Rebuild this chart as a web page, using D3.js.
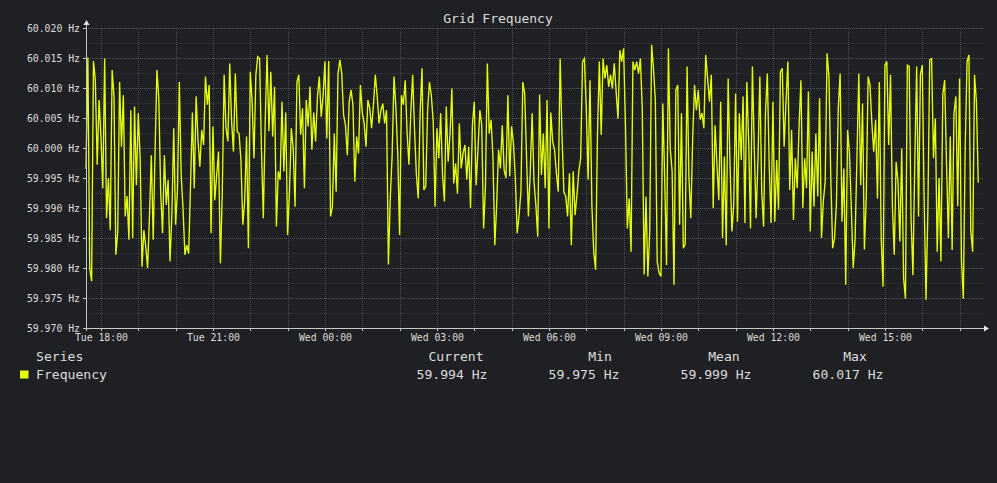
<!DOCTYPE html>
<html>
<head>
<meta charset="utf-8">
<script src="https://cdn.jsdelivr.net/npm/d3@7"></script>
<style>
  html, body { margin: 0; padding: 0; background: #1f2023; }
  svg { display: block; font-family: "DejaVu Sans Mono", monospace; }
</style>
</head>
<body>
<svg id="chart" width="997" height="483"></svg>
<script>
// ---- data ----
const chartTitle = "Grid Frequency";
const seriesName = "Frequency";
const unit = "Hz";
const startTime = Date.UTC(2024, 0, 16, 17, 36);   // Tue 17:36
const stepMinutes = 3;

// one reading every 3 minutes, Tue 17:36 -> Wed 17:30
const frequencyHz = [
  59.9965, 60.0151, 59.9800, 59.9778, 60.0145, 60.0113, 59.9972, 60.0080, 60.0019, 59.9933,
  60.0149, 59.9883, 59.9950, 59.9863, 60.0130, 60.0086, 59.9822, 59.9860, 60.0110, 60.0002,
  60.0088, 59.9886, 59.9920, 59.9847, 60.0063, 59.9850, 60.0069, 59.9938, 60.0058, 59.9983,
  59.9802, 59.9863, 59.9836, 59.9800, 59.9886, 59.9988, 59.9847, 59.9994, 60.0130, 60.0083,
  59.9927, 59.9858, 59.9988, 59.9905, 59.9947, 59.9811, 59.9888, 60.0033, 59.9872, 59.9930,
  60.0110, 59.9955, 59.9897, 59.9822, 59.9838, 59.9824, 59.9938, 60.0059, 59.9933, 60.0086,
  60.0013, 59.9969, 60.0030, 60.0005, 60.0119, 60.0072, 60.0105, 59.9858, 60.0036, 59.9913,
  59.9955, 59.9994, 59.9808, 59.9924, 60.0122, 60.0033, 60.0011, 60.0141, 60.0044, 59.9994,
  60.0124, 60.0027,
  60.0024, 59.9980, 59.9872, 59.9911, 60.0019, 59.9833, 60.0127, 60.0077, 59.9983, 60.0122,
  60.0152, 60.0149, 59.9997, 59.9883, 60.0044, 60.0155, 60.0028, 60.0127, 60.0019, 60.0102,
  59.9869, 59.9961, 59.9947, 60.0077, 59.9961, 60.0059, 59.9855, 59.9927, 60.0033, 59.9999,
  59.9902, 60.0110, 60.0122, 60.0022, 60.0066, 59.9933, 60.0080, 60.0036, 60.0102, 59.9997,
  60.0059, 60.0011, 60.0086, 60.0119, 60.0052, 60.0086, 60.0144, 60.0016, 60.0145, 59.9886,
  59.9902, 60.0024, 59.9927, 60.0124, 60.0147, 60.0124, 60.0055, 60.0038, 59.9988, 60.0077,
  60.0097, 60.0072, 59.9944, 60.0019, 59.9991, 60.0105, 60.0059, 60.0041, 60.0002, 60.0080,
  60.0066, 60.0033, 60.0072, 60.0122, 60.0086, 60.0041, 60.0063, 60.0074, 60.0041, 60.0063,
  59.9806, 59.9916, 59.9988, 60.0119, 60.0069, 59.9991, 59.9855, 60.0088, 60.0072, 60.0113,
  60.0027, 59.9972, 60.0059, 60.0122, 60.0030, 59.9955, 59.9916, 60.0059, 60.0133, 59.9930,
  59.9936, 60.0063, 60.0110, 60.0088, 60.0044, 59.9902, 60.0033, 59.9983, 60.0058, 59.9955,
  59.9911, 60.0069, 59.9977, 60.0022, 60.0099, 59.9941, 59.9974, 59.9924, 60.0041, 59.9966,
  59.9991, 60.0005, 59.9947, 60.0002, 59.9900, 60.0038, 60.0077, 59.9938, 59.9999, 60.0063,
  60.0038, 59.9866, 59.9936, 60.0141, 60.0024, 60.0047, 59.9986, 59.9838, 59.9905, 59.9997,
  59.9966, 60.0038, 59.9963, 59.9950, 60.0088, 59.9953, 60.0036, 60.0008, 59.9950, 59.9858,
  59.9888, 59.9927, 60.0110, 60.0091, 59.9986, 59.9886, 59.9961, 60.0058, 59.9944, 59.9905,
  59.9852,
  60.0089, 59.9955, 60.0024, 59.9933, 60.0080, 59.9866, 60.0059, 60.0011, 59.9997, 59.9958,
  59.9927, 60.0149, 60.0022, 59.9927, 59.9919, 59.9886, 59.9958, 59.9838, 59.9961, 59.9888,
  59.9921, 59.9961, 59.9983, 60.0144, 60.0149, 60.0066, 59.9947, 60.0113, 59.9905, 59.9827,
  59.9797, 60.0022, 60.0144, 60.0022, 60.0149, 60.0116, 60.0138, 60.0102, 60.0122, 60.0099,
  60.0141, 60.0094, 60.0049, 60.0163, 60.0144, 60.0166, 60.0038, 59.9866, 59.9916, 59.9827,
  60.0144, 60.0130, 60.0144, 60.0124, 60.0149, 60.0066, 59.9789, 59.9919, 59.9786, 59.9861,
  60.0172, 60.0133, 60.0080, 59.9811, 59.9792, 59.9786, 60.0074, 59.9950, 59.9805, 60.0166,
  59.9999, 59.9961, 59.9772, 60.0097, 60.0105, 59.9872, 60.0058, 59.9833, 59.9840, 60.0136,
  59.9950, 59.9883, 60.0016, 60.0105, 60.0063, 60.0097, 60.0047, 60.0058, 60.0033, 60.0155,
  60.0116, 60.0077, 60.0122, 59.9900, 60.0038, 59.9972, 59.9913, 60.0077, 59.9850, 59.9986,
  59.9838, 60.0116, 59.9974, 59.9861, 59.9905, 60.0091, 59.9877, 60.0058, 59.9980, 60.0086,
  59.9875, 60.0110, 60.0011, 59.9866, 60.0136, 59.9999, 59.9883, 59.9983, 60.0119, 59.9927,
  59.9869, 60.0058, 60.0124, 59.9972, 59.9875, 60.0077, 59.9877, 59.9980, 59.9897, 60.0127,
  60.0133, 60.0002, 60.0077, 60.0144, 59.9930, 60.0030, 59.9880, 59.9983, 59.9933, 60.0036,
  60.0113, 59.9900, 59.9983, 59.9933, 60.0094, 59.9861, 59.9994, 59.9902, 60.0024, 59.9919,
  60.0083, 59.9850, 59.9911, 59.9944, 60.0158, 60.0119, 59.9950, 59.9833, 59.9850, 59.9905,
  60.0066,
  60.0124, 59.9877, 59.9966, 59.9772, 60.0030, 59.9991, 59.9900, 59.9800, 59.9847, 59.9983,
  60.0124, 59.9938, 60.0074, 59.9831, 59.9919, 60.0119, 60.0105, 60.0041, 59.9994, 60.0047,
  59.9916, 60.0110, 59.9850, 59.9769, 60.0138, 60.0144, 60.0005, 60.0122, 59.9903, 59.9822,
  59.9977, 59.9944, 59.9844, 59.9999, 59.9783, 59.9749, 60.0138, 60.0136, 59.9883, 59.9788,
  59.9977, 60.0136, 59.9886, 60.0122, 60.0138, 59.9916, 59.9747, 59.9894, 60.0147, 60.0149,
  59.9983, 60.0049, 59.9827, 59.9950, 59.9811, 60.0089, 60.0113, 59.9972, 59.9850, 60.0019,
  59.9830, 60.0058, 60.0086, 59.9903, 60.0116, 59.9813, 59.9749, 59.9999, 60.0144, 60.0155,
  59.9861, 59.9827, 60.0122, 60.0077, 59.9942
];

const yMajorTicks = [59.970, 59.975, 59.980, 59.985, 59.990, 59.995, 60.000, 60.005, 60.010, 60.015, 60.020];
const yMinorTicks = [59.9725, 59.9775, 59.9825, 59.9875, 59.9925, 59.9975, 60.0025, 60.0075, 60.0125, 60.0175];

const legendHeaders = ["Current", "Min", "Mean", "Max"];
const legendValues = ["59.994 Hz", "59.975 Hz", "59.999 Hz", "60.017 Hz"];

// ---- styling / layout ----
const lineColor = "#e6ff0a";
const textColor = "#dcdcdc";
const axisColor = "#c8c8c8";

const svg = d3.select("#chart");
const points = frequencyHz.map((v, i) => ({ t: new Date(startTime + i * stepMinutes * 60000), v }));

const x = d3.scaleUtc()
  .domain([new Date(startTime), new Date(startTime + 24 * 3600000)])
  .range([86, 982]);
const y = d3.scaleLinear().domain([59.970, 60.020]).range([328, 28]);

// grid (dotted, like rrdtool)
const grid = svg.append("g").attr("shape-rendering", "crispEdges");
grid.selectAll("line.hmin").data(yMinorTicks).join("line")
  .attr("x1", 86).attr("x2", 983)
  .attr("y1", d => Math.round(y(d)) + 0.5).attr("y2", d => Math.round(y(d)) + 0.5)
  .attr("stroke", "#37383c").attr("stroke-dasharray", "1,1");
grid.selectAll("line.vgrid").data(x.ticks(d3.utcHour.every(1))).join("line")
  .attr("x1", d => Math.round(x(d)) + 0.5).attr("x2", d => Math.round(x(d)) + 0.5)
  .attr("y1", 28).attr("y2", 328)
  .attr("stroke", "#4a4b4f").attr("stroke-dasharray", "1,1");
grid.selectAll("line.hmaj").data(yMajorTicks.slice(1)).join("line")
  .attr("x1", 86).attr("x2", 983)
  .attr("y1", d => Math.round(y(d)) + 0.5).attr("y2", d => Math.round(y(d)) + 0.5)
  .attr("stroke", "#5a5b5f").attr("stroke-dasharray", "1,1");

// series line
svg.append("path")
  .datum(points)
  .attr("fill", "none")
  .attr("stroke", lineColor)
  .attr("stroke-width", 1.35)
  .attr("stroke-linejoin", "miter")
  .attr("d", d3.line().x(d => x(d.t)).y(d => y(d.v)));

// axes
const axes = svg.append("g").attr("shape-rendering", "crispEdges");
axes.append("line").attr("x1", 83).attr("x2", 985).attr("y1", 328.5).attr("y2", 328.5).attr("stroke", axisColor);
axes.append("line").attr("x1", 86.5).attr("x2", 86.5).attr("y1", 331).attr("y2", 24).attr("stroke", axisColor);
svg.append("path").attr("d", "M984,325.5L989,328.5L984,331.5Z").attr("fill", "#e8e8e8");
svg.append("path").attr("d", "M83.5,25L86.5,20L89.5,25Z").attr("fill", "#e8e8e8");

axes.selectAll("line.xt").data(x.ticks(d3.utcHour.every(1))).join("line")
  .attr("x1", d => Math.round(x(d)) + 0.5).attr("x2", d => Math.round(x(d)) + 0.5)
  .attr("y1", 328).attr("y2", 331).attr("stroke", axisColor);
axes.selectAll("line.yt").data(yMajorTicks).join("line")
  .attr("x1", 83).attr("x2", 86)
  .attr("y1", d => Math.round(y(d)) + 0.5).attr("y2", d => Math.round(y(d)) + 0.5)
  .attr("stroke", axisColor);

// y labels
svg.append("g").selectAll("text").data(yMajorTicks).join("text")
  .attr("x", 80).attr("y", d => y(d) + 3.5)
  .attr("text-anchor", "end").attr("fill", textColor).attr("font-size", 9.8)
  .text(d => d3.format(".3f")(d) + " " + unit);

// x labels
const fmtX = d3.utcFormat("%a %H:%M");
svg.append("g").selectAll("text").data(x.ticks(d3.utcHour.every(3))).join("text")
  .attr("x", d => x(d) + 0.5).attr("y", 341)
  .attr("text-anchor", "middle").attr("fill", textColor).attr("font-size", 9.8)
  .text(d => fmtX(d));

// title
svg.append("text").attr("x", 498).attr("y", 23).attr("text-anchor", "middle")
  .attr("fill", textColor).attr("font-size", 13).text(chartTitle);

// legend
const legend = svg.append("g").attr("fill", textColor).attr("font-size", 13.1);
legend.append("text").attr("x", 36).attr("y", 361).text("Series");
legend.append("rect").attr("x", 20).attr("y", 370.5).attr("width", 8.5).attr("height", 8).attr("fill", lineColor);
legend.append("text").attr("x", 36).attr("y", 378.5).text(seriesName);
const headerCenters = [456, 600, 724, 855];
const valueStarts = [416.5, 548.5, 680.5, 812.5];
legend.selectAll("text.h").data(legendHeaders).join("text")
  .attr("x", (d, i) => headerCenters[i]).attr("y", 361).attr("text-anchor", "middle").text(d => d);
legend.selectAll("text.v").data(legendValues).join("text")
  .attr("x", (d, i) => valueStarts[i]).attr("y", 378.5).text(d => d);
</script>
</body>
</html>
